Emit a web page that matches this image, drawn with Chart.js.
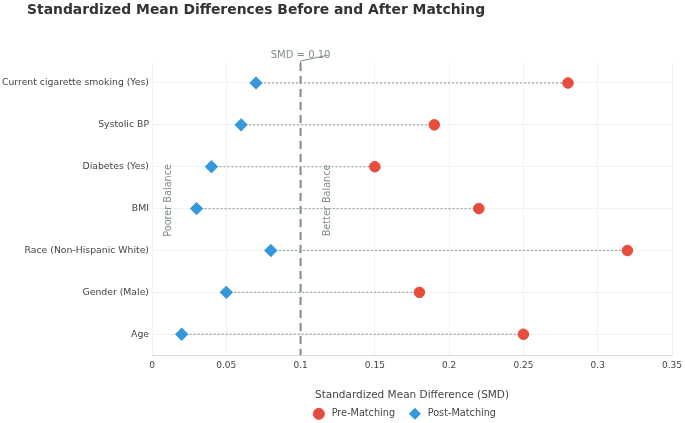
<!DOCTYPE html>
<html>
<head>
<meta charset="utf-8">
<script src="https://cdn.jsdelivr.net/npm/chart.js@4.4.0/dist/chart.umd.min.js"></script>
<style>
html, body { margin: 0; padding: 0; background: #fff; }
#wrap { width: 685px; height: 423px; position: relative; }
</style>
</head>
<body>
<div id="wrap"><canvas id="myChart"></canvas></div>
<script>
// Covariates, top to bottom as in the figure
var categories = [
    'Current cigarette smoking (Yes)',
    'Systolic BP',
    'Diabetes (Yes)',
    'BMI',
    'Race (Non-Hispanic White)',
    'Gender (Male)',
    'Age'
];
var preMatching  = [0.28, 0.19, 0.15, 0.22, 0.32, 0.18, 0.25];
var postMatching = [0.07, 0.06, 0.04, 0.03, 0.08, 0.05, 0.02];
var xTickLabels  = ['0', '0.05', '0.1', '0.15', '0.2', '0.25', '0.3', '0.35'];
var smdThreshold = 0.1;

Chart.defaults.font.family = "'DejaVu Sans', Verdana, sans-serif";

var datasets = [{
    label: 'Pre-Matching',
    data: categories.map((c, i) => ({ x: preMatching[i], y: c })),
    backgroundColor: '#e74c3c',
    borderColor: '#e74c3c',
    pointStyle: 'circle',
    pointRadius: 5.3,
    pointHoverRadius: 5.3,
    order: 1
}, {
    label: 'Post-Matching',
    data: categories.map((c, i) => ({ x: postMatching[i], y: c })),
    backgroundColor: '#3498db',
    borderColor: '#3498db',
    pointStyle: 'rectRot',
    pointRadius: 6.2,
    pointHoverRadius: 6.2,
    order: 1
}];

// dotted connectors from post to pre value
categories.forEach((c, i) => {
    datasets.push({
        type: 'line',
        label: 'link',
        data: [{ x: postMatching[i], y: c }, { x: preMatching[i], y: c }],
        borderColor: '#95a5a6',
        borderWidth: 1.2,
        borderDash: [2, 2],
        pointRadius: 0,
        fill: false,
        order: 3
    });
});

// reference line, arrow note, rotated notes and title
var notesPlugin = {
    id: 'notes',
    beforeDraw(chart) {
        // centre the legend under the plot area
        const a = chart.chartArea;
        chart.legend.left = a.left;
        chart.legend.right = a.right - 14;
    },
    beforeDatasetsDraw(chart) {
        const ctx = chart.ctx, a = chart.chartArea;
        const x = chart.scales.x.getPixelForValue(smdThreshold);
        ctx.save();
        ctx.strokeStyle = '#7f8c8d';
        ctx.lineWidth = 2;
        ctx.setLineDash([8, 5]);
        ctx.beginPath();
        ctx.moveTo(x, a.top + 1);
        ctx.lineTo(x, a.bottom);
        ctx.stroke();
        ctx.restore();
    },
    afterDraw(chart) {
        const ctx = chart.ctx, a = chart.chartArea, xs = chart.scales.x;
        const x = xs.getPixelForValue(smdThreshold);
        const midY = a.top + (a.bottom - a.top) * 0.472;
        ctx.save();
        ctx.fillStyle = '#7f8c8d';
        ctx.strokeStyle = '#7f8c8d';
        ctx.font = "10px 'DejaVu Sans'";
        ctx.textAlign = 'center';
        ctx.textBaseline = 'middle';
        ctx.fillText('SMD = 0.10', x, a.top - 7);
        ctx.lineWidth = 1;
        ctx.beginPath();
        ctx.moveTo(x, a.top + 1);
        ctx.lineTo(x, a.top - 1);
        ctx.lineTo(x + 28, a.top - 7);
        ctx.stroke();

        ctx.font = "9.7px 'DejaVu Sans'";
        [['Poorer Balance', 0.011], ['Better Balance', 0.118]].forEach(n => {
            ctx.save();
            ctx.translate(xs.getPixelForValue(n[1]), midY);
            ctx.rotate(-Math.PI / 2);
            ctx.fillText(n[0], 0, 0);
            ctx.restore();
        });

        ctx.fillStyle = '#333';
        ctx.font = "bold 13.9px 'DejaVu Sans'";
        ctx.textAlign = 'left';
        ctx.fillText('Standardized Mean Differences Before and After Matching', 27, 10);
        ctx.restore();
    }
};

let ctx = document.getElementById('myChart').getContext('2d');
let myChart = new Chart(ctx, {
    type: 'scatter',
    data: { datasets: datasets },
    plugins: [notesPlugin],
    options: {
        responsive: true,
        maintainAspectRatio: false,
        animation: false,
        layout: { padding: { top: 62, right: 0, left: 0, bottom: 0 } },
        plugins: {
            tooltip: { enabled: false },
            legend: {
                position: 'bottom',
                maxHeight: 29,
                labels: {
                    usePointStyle: true,
                    boxWidth: 10,
                    boxHeight: 7.8,
                    padding: 15,
                    color: '#444',
                    font: { size: 9.7 },
                    generateLabels: chart => Chart.defaults.plugins.legend.labels.generateLabels(chart)
                        .filter(item => item.datasetIndex < 2)
                        .map(item => { item.text = ' ' + item.text; return item; })
                }
            }
        },
        scales: {
            x: {
                type: 'linear',
                min: 0,
                max: 0.35,
                afterBuildTicks: scale => {
                    scale.ticks = xTickLabels.map(t => ({ value: parseFloat(t) }));
                },
                afterFit: scale => { scale.paddingRight = 13; },
                ticks: {
                    color: '#444',
                    font: { size: 9 },
                    padding: 5,
                    callback: (v, i) => xTickLabels[i]
                },
                grid: { color: '#f2f2f2', drawTicks: false },
                border: { color: '#dddddd' },
                title: {
                    display: true,
                    text: 'Standardized Mean Difference (SMD)',
                    color: '#444',
                    font: { size: 10.5 },
                    padding: { top: 12.7, bottom: -7.3 }
                }
            },
            y: {
                type: 'category',
                labels: categories,
                offset: true,
                afterFit: scale => { scale.width = 152; },
                ticks: { color: '#444', font: { size: 9.3 }, padding: 3 },
                grid: { color: '#f2f2f2', offset: false, drawTicks: false },
                border: { display: false }
            }
        }
    }
});
</script>
</body>
</html>
